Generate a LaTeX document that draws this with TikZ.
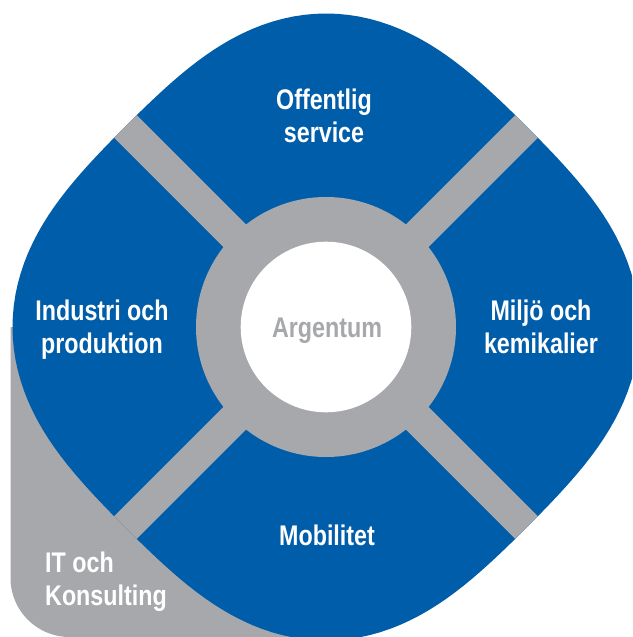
\documentclass[tikz,border=0pt]{standalone}
\usepackage{fontspec}
\newfontfamily\areafont{Liberation Sans}[FakeStretch=0.82]
\usetikzlibrary{positioning}
\definecolor{argblue}{RGB}{0,93,169}
\definecolor{arggray}{RGB}{167,168,172}

\begin{document}
\begin{tikzpicture}[x=1pt, y=-1pt,
    areatext/.style={text=white, font=\areafont\bfseries\fontsize{28.4pt}{33pt}\selectfont, align=center, inner sep=0pt},
    band/.style={draw=arggray, line width=32pt},
    declare function={blobr(\t)=298.6+14.9*cos(4*\t);}
]
    \clip (0,0) rectangle (632,637);
    \coordinate (hub) at (326,327);

    % Corner
    \fill[arggray] (10.5,327) -- (10.5,578) arc[start angle=180, end angle=270, radius=59pt] -- (326,637) -- (hub) -- cycle;

    % Blob
    \fill[argblue, shift={(hub)}] plot[domain=0:360, samples=181] (\x:{blobr(\x)}) -- cycle;

    % Bands
    \begin{scope}
        \clip[shift={(hub)}] plot[domain=0:360, samples=181] (\x:{blobr(\x)}) -- cycle;
        \draw[band] (hub) +(-330,-330) -- +(330,330);
        \draw[band] (hub) +(330,-330) -- +(-330,330);
    \end{scope}

    % Ring
    \fill[arggray] (hub) circle[radius=130pt];
    \fill[white] (hub) circle[radius=85.3pt];

    % Areas
    \node[areatext] (offentlig) at (324,116) {Offentlig\\service};
    \node[areatext] (industri) at (102,330) {Industri och\\produktion};
    \node[areatext] (miljo) at (541,327) {Miljö och\\kemikalier};
    \node[areatext, anchor=base] (mobilitet) at (327,545) {Mobilitet};
    \node[areatext, text=arggray, anchor=base] (argentum) at (327,337.7) {Argentum};
    \node[areatext, align=left, anchor=west] (it) at (45,582) {IT och\\Konsulting};
\end{tikzpicture}
\end{document}
